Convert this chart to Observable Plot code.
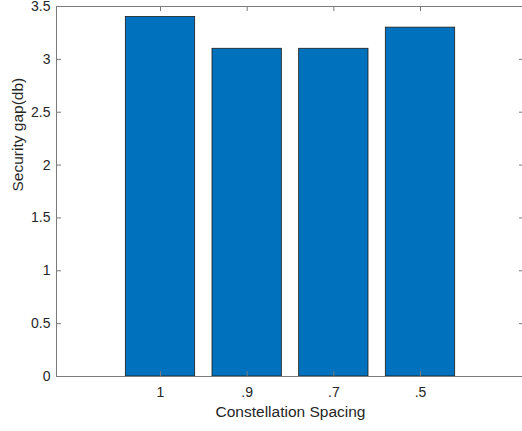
<!DOCTYPE html>
<html>
<head>
<meta charset="utf-8">
<script src="https://cdn.jsdelivr.net/npm/d3@7"></script>
<script src="https://cdn.jsdelivr.net/npm/@observablehq/plot@0.6"></script>
<style>
  html, body { margin: 0; padding: 0; background: #fff; }
  #chart { width: 522px; height: 431px; }
</style>
</head>
<body>
<div id="chart"></div>
<script>
// Data
const categories = ["1", ".9", ".7", ".5"];
const positions = [1, 2, 3, 4];
const values = [3.4, 3.1, 3.1, 3.3];
const yTicks = [0, 0.5, 1, 1.5, 2, 2.5, 3, 3.5];
const yTickLabels = ["0", "0.5", "1", "1.5", "2", "2.5", "3", "3.5"];
const xLabel = "Constellation Spacing";
const yLabel = "Security gap(db)";

const W = 522, H = 431;
const mL = 56, mR = -2, mT = 6, mB = 55;
const frameW = W - mL - mR, frameH = H - mT - mB;
const tickLen = 5;
const barHalf = 0.4;
const axisColor = "#7a7a7a";
const textColor = "#262626";
const font = "'Liberation Sans', Arial, Helvetica, sans-serif";

const bars = positions.map((p, i) => ({pos: p, value: values[i], cat: categories[i]}));

const chart = Plot.plot({
  width: W,
  height: H,
  marginLeft: mL,
  marginRight: mR,
  marginTop: mT,
  marginBottom: mB,
  style: {fontFamily: font, color: textColor, background: "#fff", overflow: "visible"},
  x: {domain: [-0.2, 5.2], range: [mL, W - mR]},
  y: {domain: [0, 3.5]},
  marks: [
    Plot.rectY(bars, {
      x1: d => d.pos - barHalf,
      x2: d => d.pos + barHalf,
      y1: 0,
      y2: "value",
      fill: "#0072BD",
      stroke: "#1a1a1a",
      strokeWidth: 0.8
    }),
    Plot.frame({stroke: axisColor, strokeWidth: 1}),
    // inward ticks
    Plot.tickY(yTicks, {y: d => d, stroke: axisColor, insetRight: frameW - tickLen}),
    Plot.tickY(yTicks, {y: d => d, stroke: axisColor, insetLeft: frameW - tickLen}),
    Plot.tickX(positions, {x: d => d, stroke: axisColor, insetTop: frameH - tickLen}),
    Plot.tickX(positions, {x: d => d, stroke: axisColor, insetBottom: frameH - tickLen}),
    Plot.axisY({
      ticks: yTicks,
      tickFormat: (d) => yTickLabels[yTicks.indexOf(d)],
      tickSize: 0,
      tickPadding: 6,
      fontSize: 14,
      label: null
    }),
    Plot.axisX({
      ticks: positions,
      tickFormat: (d) => categories[positions.indexOf(d)],
      tickSize: 0,
      tickPadding: 11,
      fontSize: 14,
      label: null
    }),
    Plot.text([xLabel], {
      text: d => d,
      frameAnchor: "bottom",
      dy: 35.6,
      lineAnchor: "middle",
      fontSize: 15.5,
      fill: textColor
    }),
    Plot.text([yLabel], {
      text: d => d,
      frameAnchor: "left",
      dx: -38,
      rotate: -90,
      lineAnchor: "middle",
      fontSize: 15.5,
      fill: textColor
    })
  ]
});
document.getElementById("chart").appendChild(chart);
</script>
</body>
</html>
